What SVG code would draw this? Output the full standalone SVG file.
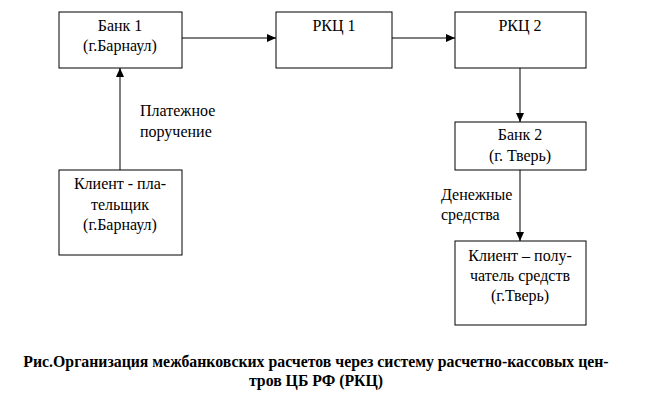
<svg xmlns="http://www.w3.org/2000/svg" width="648" height="400" viewBox="0 0 648 400">
<style>
.b{fill:#fff;stroke:#000;stroke-width:1}
text{font-family:"Liberation Serif",serif;font-size:16px;fill:#000}
.c{text-anchor:middle}
.cap{font-weight:bold;font-size:15.8px;text-anchor:middle}
.l{stroke:#000;stroke-width:1;fill:none;marker-end:url(#a)}
</style>
<defs><marker id="a" markerWidth="10" markerHeight="8" refX="9" refY="4" orient="auto" markerUnits="userSpaceOnUse"><path d="M0,0 L9,4 L0,8 Z" fill="#000"/></marker></defs>
<rect width="648" height="400" fill="#fff"/>
<g id="bank1"><rect class="b" x="59" y="12" width="123" height="56"/><text class="c" x="120" y="31">Банк 1</text><text class="c" x="120" y="51">(г.Барнаул)</text></g>
<g id="rkc1"><rect class="b" x="276" y="12" width="116" height="56"/><text class="c" x="334" y="31">РКЦ 1</text></g>
<g id="rkc2"><rect class="b" x="455" y="12" width="131" height="56"/><text class="c" x="520" y="31">РКЦ 2</text></g>
<g id="bank2"><rect class="b" x="455" y="122" width="131" height="48"/><text class="c" x="520" y="140">Банк 2</text><text class="c" x="520" y="161">(г. Тверь)</text></g>
<g id="payer"><rect class="b" x="59" y="170" width="123" height="85"/><text class="c" x="120" y="189">Клиент - пла-</text><text class="c" x="120" y="210">тельщик</text><text class="c" x="120" y="230">(г.Барнаул)</text></g>
<g id="recipient"><rect class="b" x="455" y="241" width="131" height="84"/><text class="c" x="520" y="261">Клиент – полу-</text><text class="c" x="520" y="281">чатель средств</text><text class="c" x="520" y="301">(г.Тверь)</text></g>
<g id="connectors">
<path class="l" d="M182,38 H276"/>
<path class="l" d="M392,38 H455"/>
<path class="l" d="M520,68 V122"/>
<path class="l" d="M520,170 V241"/>
<path class="l" d="M120,170 V68"/>
</g>
<g id="labels">
<text x="140" y="116">Платежное</text><text x="140" y="137">поручение</text>
<text x="441" y="200">Денежные</text><text x="441" y="220">средства</text>
</g>
<text class="cap" x="316" y="367">Рис.Организация межбанковских расчетов через систему расчетно-кассовых цен-</text>
<text class="cap" x="316" y="386">тров ЦБ РФ (РКЦ)</text>
</svg>
